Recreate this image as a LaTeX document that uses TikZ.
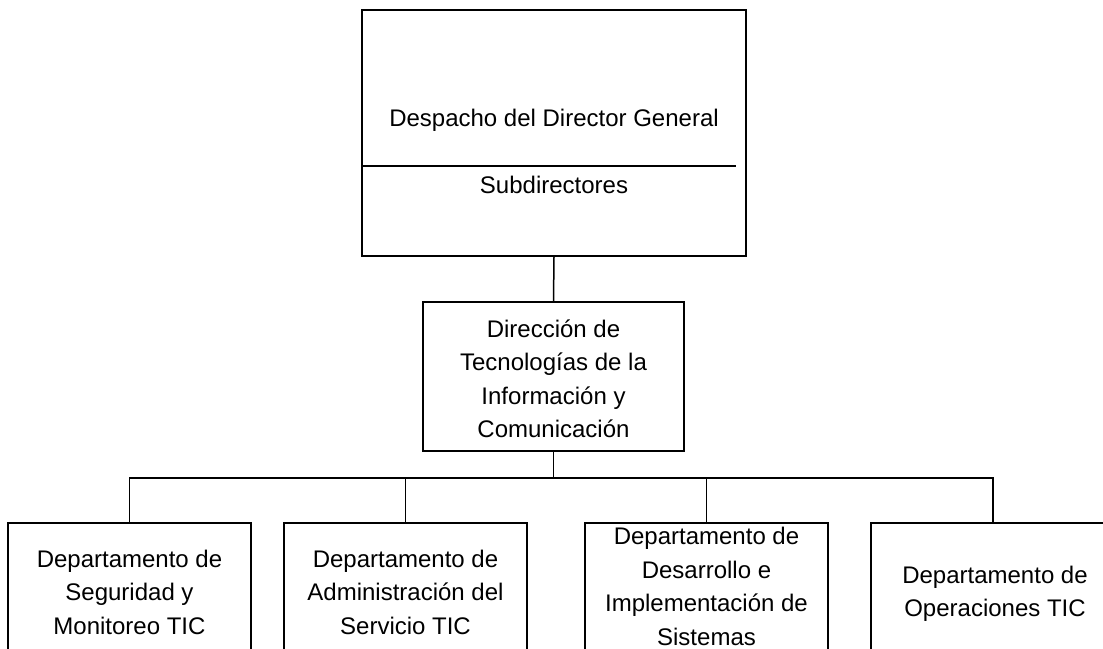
\documentclass[tikz,border=0pt]{standalone}
\usepackage{fontspec}
\setmainfont{Liberation Sans}
\begin{document}
\begin{tikzpicture}[x=1pt,y=-1pt,line width=1.5pt,
  box/.style={draw,rectangle,inner sep=0pt},
  txt/.style={font=\fontsize{24}{33.5}\selectfont,align=center,anchor=base,inner sep=0pt}]
\useasboundingbox (0,0) rectangle (1103,648);
\clip (0,0) rectangle (1103,648);
% boxes
\node[box,minimum width=384pt,minimum height=246pt] (top) at (554,133) {};
\node[box,minimum width=261pt,minimum height=149pt] (mid) at (553.5,376.5) {};
\node[box,minimum width=243pt,minimum height=160pt] (b1) at (129.5,603) {};
\node[box,minimum width=243pt,minimum height=160pt] (b2) at (405.5,603) {};
\node[box,minimum width=243pt,minimum height=160pt] (b3) at (706.5,603) {};
\node[box,minimum width=244pt,minimum height=160pt] (b4) at (993,603) {};
% divider in top box
\coordinate (divR) at (736,166);
\draw (top.west |- divR) -- (divR);
% connectors
\coordinate (bus) at (553.5,478);
\draw (top.south) -- (mid.north);
\draw (mid.south) -- (mid.south |- bus);
\draw (b1.north) |- (b4.north |- bus) -- (b4.north);
\draw (b2.north) -- (b2.north |- bus);
\draw (b3.north) -- (b3.north |- bus);
% texts (base anchor = baseline of the last line)
\node[txt] (t1) at (554,126) {Despacho del Director General};
\node[txt] (t2) at (554,193) {Subdirectores};
\node[txt] (tm) at (553.5,437.5) {Dirección de\\Tecnologías de la\\Información y\\Comunicación};
\node[txt] (tb1) at (129.5,634) {Departamento de\\Seguridad y\\Monitoreo TIC};
\node[txt] (tb2) at (405.5,634) {Departamento de\\Administración del\\Servicio TIC};
\node[txt] (tb3) at (706.5,645) {Departamento de\\Desarrollo e\\Implementación de\\Sistemas};
\node[txt] (tb4) at (995,616.5) {Departamento de\\Operaciones TIC};
\end{tikzpicture}
\end{document}
